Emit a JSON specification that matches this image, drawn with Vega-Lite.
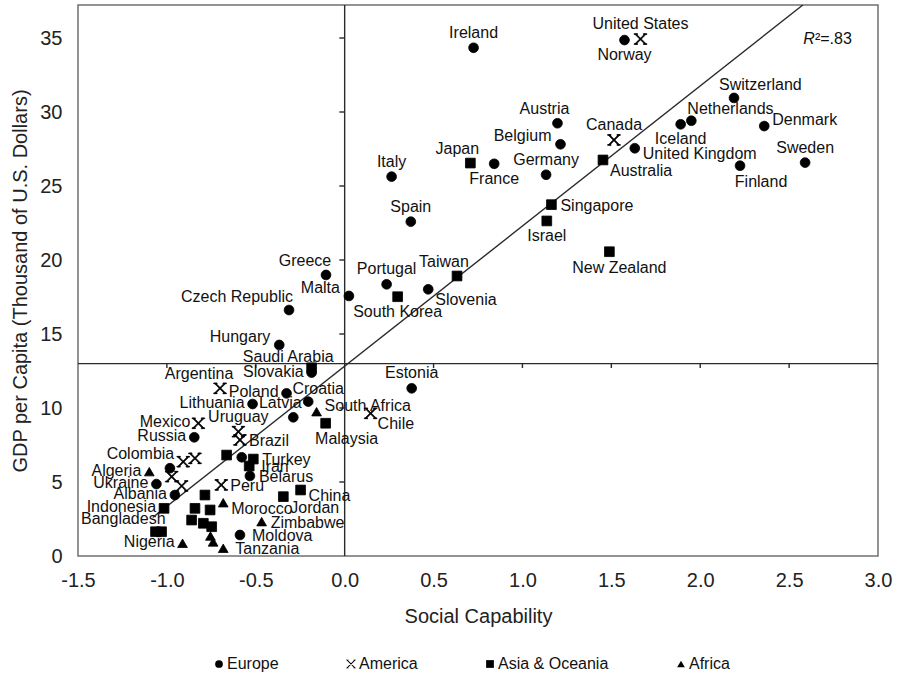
{
  "$schema": "https://vega.github.io/schema/vega-lite/v6.json",
  "width": 800,
  "height": 551,
  "autosize": {"type": "none"},
  "padding": {"left": 78, "top": 5, "right": 25, "bottom": 124},
  "background": "white",
  "config": {
    "view": {"stroke": "#707070", "strokeWidth": 1.5},
    "font": "Liberation Sans",
    "axis": {"grid": false, "ticks": false, "domain": false, "labelFont": "Liberation Sans", "titleFont": "Liberation Sans", "labelFontSize": 20, "titleFontSize": 20, "titleFontWeight": "normal", "labelColor": "#222", "titleColor": "#222"},
    "text": {"font": "Liberation Sans", "fontSize": 16, "color": "#111", "baseline": "middle"}
  },
  "datasets": {
    "pts": [
      {"name": "Ireland", "region": "Europe", "x": 0.725, "y": 34.34},
      {"name": "Norway", "region": "Europe", "x": 1.574, "y": 34.86},
      {"name": "Switzerland", "region": "Europe", "x": 2.19, "y": 30.95},
      {"name": "Netherlands", "region": "Europe", "x": 1.95, "y": 29.41},
      {"name": "Iceland", "region": "Europe", "x": 1.89, "y": 29.17},
      {"name": "Denmark", "region": "Europe", "x": 2.36, "y": 29.05},
      {"name": "Sweden", "region": "Europe", "x": 2.59, "y": 26.58},
      {"name": "Finland", "region": "Europe", "x": 2.224, "y": 26.37},
      {"name": "United Kingdom", "region": "Europe", "x": 1.632, "y": 27.55},
      {"name": "Austria", "region": "Europe", "x": 1.197, "y": 29.24},
      {"name": "Belgium", "region": "Europe", "x": 1.214, "y": 27.82},
      {"name": "Germany", "region": "Europe", "x": 1.133, "y": 25.76},
      {"name": "France", "region": "Europe", "x": 0.841, "y": 26.5},
      {"name": "Italy", "region": "Europe", "x": 0.264, "y": 25.63},
      {"name": "Spain", "region": "Europe", "x": 0.372, "y": 22.59},
      {"name": "Portugal", "region": "Europe", "x": 0.236, "y": 18.36},
      {"name": "Slovenia", "region": "Europe", "x": 0.47, "y": 18.02},
      {"name": "Greece", "region": "Europe", "x": -0.105, "y": 18.99},
      {"name": "Malta", "region": "Europe", "x": 0.024, "y": 17.57},
      {"name": "Czech Republic", "region": "Europe", "x": -0.313, "y": 16.62},
      {"name": "Hungary", "region": "Europe", "x": -0.368, "y": 14.26},
      {"name": "Slovakia", "region": "Europe", "x": -0.186, "y": 12.39},
      {"name": "Estonia", "region": "Europe", "x": 0.377, "y": 11.33},
      {"name": "Poland", "region": "Europe", "x": -0.327, "y": 10.99},
      {"name": "Croatia", "region": "Europe", "x": -0.205, "y": 10.43},
      {"name": "Lithuania", "region": "Europe", "x": -0.518, "y": 10.27},
      {"name": "Latvia", "region": "Europe", "x": -0.289, "y": 9.37},
      {"name": "Russia", "region": "Europe", "x": -0.846, "y": 8.02},
      {"name": "Ukraine", "region": "Europe", "x": -1.059, "y": 4.86},
      {"name": "Albania", "region": "Europe", "x": -0.955, "y": 4.12},
      {"name": "Belarus", "region": "Europe", "x": -0.533, "y": 5.41},
      {"name": "Moldova", "region": "Europe", "x": -0.589, "y": 1.42},
      {"name": "", "region": "Europe", "x": -0.983, "y": 5.93},
      {"name": "", "region": "Europe", "x": -0.579, "y": 6.67},
      {"name": "United States", "region": "America", "x": 1.664, "y": 34.93},
      {"name": "Canada", "region": "America", "x": 1.515, "y": 28.11},
      {"name": "Chile", "region": "America", "x": 0.146, "y": 9.64},
      {"name": "Argentina", "region": "America", "x": -0.701, "y": 11.33},
      {"name": "Mexico", "region": "America", "x": -0.823, "y": 8.97},
      {"name": "Uruguay", "region": "America", "x": -0.598, "y": 8.4},
      {"name": "Brazil", "region": "America", "x": -0.589, "y": 7.84},
      {"name": "Colombia", "region": "America", "x": -0.908, "y": 6.37},
      {"name": "", "region": "America", "x": -0.842, "y": 6.6},
      {"name": "", "region": "America", "x": -0.973, "y": 5.36},
      {"name": "", "region": "America", "x": -0.917, "y": 4.73},
      {"name": "Peru", "region": "America", "x": -0.694, "y": 4.8},
      {"name": "Japan", "region": "Asia & Oceania", "x": 0.707, "y": 26.55},
      {"name": "Australia", "region": "Asia & Oceania", "x": 1.453, "y": 26.76},
      {"name": "Singapore", "region": "Asia & Oceania", "x": 1.163, "y": 23.74},
      {"name": "Israel", "region": "Asia & Oceania", "x": 1.137, "y": 22.64},
      {"name": "New Zealand", "region": "Asia & Oceania", "x": 1.489, "y": 20.56},
      {"name": "Taiwan", "region": "Asia & Oceania", "x": 0.632, "y": 18.92},
      {"name": "South Korea", "region": "Asia & Oceania", "x": 0.298, "y": 17.52},
      {"name": "Saudi Arabia", "region": "Asia & Oceania", "x": -0.186, "y": 12.72},
      {"name": "Malaysia", "region": "Asia & Oceania", "x": -0.107, "y": 8.97},
      {"name": "Turkey", "region": "Asia & Oceania", "x": -0.514, "y": 6.55},
      {"name": "Iran", "region": "Asia & Oceania", "x": -0.537, "y": 6.08},
      {"name": "", "region": "Asia & Oceania", "x": -0.664, "y": 6.82},
      {"name": "China", "region": "Asia & Oceania", "x": -0.248, "y": 4.46},
      {"name": "Jordan", "region": "Asia & Oceania", "x": -0.345, "y": 4.01},
      {"name": "Indonesia", "region": "Asia & Oceania", "x": -1.016, "y": 3.22},
      {"name": "Bangladesh", "region": "Asia & Oceania", "x": -1.03, "y": 1.64},
      {"name": "", "region": "Asia & Oceania", "x": -1.064, "y": 1.64},
      {"name": "", "region": "Asia & Oceania", "x": -0.786, "y": 4.12},
      {"name": "", "region": "Asia & Oceania", "x": -0.842, "y": 3.22},
      {"name": "", "region": "Asia & Oceania", "x": -0.757, "y": 3.11},
      {"name": "", "region": "Asia & Oceania", "x": -0.861, "y": 2.43},
      {"name": "", "region": "Asia & Oceania", "x": -0.795, "y": 2.21},
      {"name": "", "region": "Asia & Oceania", "x": -0.748, "y": 1.98},
      {"name": "South Africa", "region": "Africa", "x": -0.158, "y": 9.75},
      {"name": "Algeria", "region": "Africa", "x": -1.099, "y": 5.7},
      {"name": "Morocco", "region": "Africa", "x": -0.683, "y": 3.6},
      {"name": "Zimbabwe", "region": "Africa", "x": -0.467, "y": 2.32},
      {"name": "Nigeria", "region": "Africa", "x": -0.912, "y": 0.86},
      {"name": "Tanzania", "region": "Africa", "x": -0.683, "y": 0.52},
      {"name": "", "region": "Africa", "x": -0.755, "y": 1.35},
      {"name": "", "region": "Africa", "x": -0.74, "y": 0.95}
    ],
    "lines": [
      {"id": "v", "x": 0, "y": 0},
      {"id": "v", "x": 0, "y": 37.23},
      {"id": "h", "x": -1.5, "y": 13},
      {"id": "h", "x": 3.0, "y": 13},
      {"id": "fit", "x": -1.08, "y": 2.6},
      {"id": "fit", "x": 2.577, "y": 37.23},
      {"id": "ty5", "x": -0.03, "y": 5}, {"id": "ty5", "x": 0, "y": 5},
      {"id": "ty10", "x": -0.03, "y": 10}, {"id": "ty10", "x": 0, "y": 10},
      {"id": "ty15", "x": -0.03, "y": 15}, {"id": "ty15", "x": 0, "y": 15},
      {"id": "ty20", "x": -0.03, "y": 20}, {"id": "ty20", "x": 0, "y": 20},
      {"id": "ty25", "x": -0.03, "y": 25}, {"id": "ty25", "x": 0, "y": 25},
      {"id": "ty30", "x": -0.03, "y": 30}, {"id": "ty30", "x": 0, "y": 30},
      {"id": "ty35", "x": -0.03, "y": 35}, {"id": "ty35", "x": 0, "y": 35},
      {"id": "tx1", "x": -1.0, "y": 13}, {"id": "tx1", "x": -1.0, "y": 12.7},
      {"id": "tx2", "x": -0.5, "y": 13}, {"id": "tx2", "x": -0.5, "y": 12.7},
      {"id": "tx3", "x": 0.5, "y": 13}, {"id": "tx3", "x": 0.5, "y": 12.7},
      {"id": "tx4", "x": 1.0, "y": 13}, {"id": "tx4", "x": 1.0, "y": 12.7},
      {"id": "tx5", "x": 1.5, "y": 13}, {"id": "tx5", "x": 1.5, "y": 12.7},
      {"id": "tx6", "x": 2.0, "y": 13}, {"id": "tx6", "x": 2.0, "y": 12.7},
      {"id": "tx7", "x": 2.5, "y": 13}, {"id": "tx7", "x": 2.5, "y": 12.7}
    ],
    "ann": [{"x": 2.645, "y": 34.93}]
  },
  "encoding": {
    "x": {"field": "x", "type": "quantitative", "scale": {"domain": [-1.5, 3.0], "nice": false, "zero": false},
      "axis": {"title": "Social Capability", "values": [-1.5, -1, -0.5, 0, 0.5, 1, 1.5, 2, 2.5, 3], "format": ".1f", "labelExpr": "replace(datum.label, '\u2212', '-')", "labelPadding": 14, "titlePadding": 16, "labelFlush": false}},
    "y": {"field": "y", "type": "quantitative", "scale": {"domain": [0, 37.23], "nice": false, "zero": false},
      "axis": {"title": "GDP per Capita (Thousand of U.S. Dollars)", "values": [0, 5, 10, 15, 20, 25, 30, 35], "format": "d", "labelPadding": 16, "titlePadding": 9, "labelFlush": false}}
  },
  "layer": [
    {
      "data": {"name": "lines"},
      "mark": {"type": "line", "color": "#2a2a2a", "strokeWidth": 1.4},
      "encoding": {"detail": {"field": "id"}}
    },
    {
      "data": {"name": "pts"},
      "mark": {"type": "point", "filled": true, "color": "black", "stroke": "black", "strokeWidth": 0.8, "size": 95, "opacity": 1},
      "encoding": {
        "shape": {"field": "region", "type": "nominal",
          "scale": {"domain": ["Europe", "America", "Asia & Oceania", "Africa"], "range": ["circle", "M-1.085,-0.915L0.915,1.085L1.085,0.915L-0.915,-1.085ZM-0.915,1.085L1.085,-0.915L0.915,-1.085L-1.085,0.915ZM-1.3,-1.1V-0.95H-0.6V-1.1ZM0.6,-1.1V-0.95H1.3V-1.1ZM-1.3,0.95V1.1H-0.6V0.95ZM0.6,0.95V1.1H1.3V0.95Z", "square", "triangle-up"]},
          "legend": {"orient": "none", "legendX": 133, "legendY": 651, "direction": "horizontal", "title": null, "labelFont": "Liberation Sans", "labelFontSize": 16, "labelColor": "#111", "symbolSize": 60, "columnPadding": 64, "labelOffset": 0, "symbolFillColor": "black", "symbolStrokeColor": "black", "symbolStrokeWidth": 0.8, "symbolOpacity": 1}}
      }
    },
    {"data": {"name": "pts"}, "transform": [{"filter": {"field": "name", "oneOf": ["Singapore", "Brazil", "Turkey", "Belarus", "Peru", "Zimbabwe"]}}],
      "mark": {"type": "text", "align": "left", "dx": 9, "dy": 1}, "encoding": {"text": {"field": "name"}}},
    {"data": {"name": "pts"}, "transform": [{"filter": {"field": "name", "oneOf": ["Iran", "Tanzania", "Moldova"]}}],
      "mark": {"type": "text", "align": "left", "dx": 12, "dy": 1}, "encoding": {"text": {"field": "name"}}},
    {"data": {"name": "pts"}, "transform": [{"filter": {"field": "name", "oneOf": ["Denmark", "South Africa"]}}],
      "mark": {"type": "text", "align": "left", "dx": 8, "dy": -6}, "encoding": {"text": {"field": "name"}}},
    {"data": {"name": "pts"}, "transform": [{"filter": {"field": "name", "oneOf": ["United Kingdom", "China", "Morocco"]}}],
      "mark": {"type": "text", "align": "left", "dx": 8, "dy": 6}, "encoding": {"text": {"field": "name"}}},
    {"data": {"name": "pts"}, "transform": [{"filter": {"field": "name", "oneOf": ["Slovakia", "Poland", "Lithuania", "Mexico", "Russia", "Algeria", "Ukraine", "Albania", "Indonesia", "Nigeria"]}}],
      "mark": {"type": "text", "align": "right", "dx": -8, "dy": -1}, "encoding": {"text": {"field": "name"}}},
    {"data": {"name": "pts"}, "transform": [{"filter": {"field": "name", "oneOf": ["Belgium", "Malta", "Hungary", "Colombia"]}}],
      "mark": {"type": "text", "align": "right", "dx": -9, "dy": -8}, "encoding": {"text": {"field": "name"}}},
    {"data": {"name": "pts"}, "transform": [{"filter": {"field": "name", "oneOf": ["Ireland", "United States", "Canada", "Germany", "Italy", "Spain", "Sweden", "Portugal", "Estonia", "Uruguay"]}}],
      "mark": {"type": "text", "align": "center", "dx": 0, "dy": -15}, "encoding": {"text": {"field": "name"}}},
    {"data": {"name": "pts"}, "transform": [{"filter": {"field": "name", "oneOf": ["Austria", "Japan", "Taiwan", "Latvia"]}}],
      "mark": {"type": "text", "align": "center", "dx": -13, "dy": -14}, "encoding": {"text": {"field": "name"}}},
    {"data": {"name": "pts"}, "transform": [{"filter": {"field": "name", "oneOf": ["Greece", "Argentina"]}}],
      "mark": {"type": "text", "align": "center", "dx": -21, "dy": -14}, "encoding": {"text": {"field": "name"}}},
    {"data": {"name": "pts"}, "transform": [{"filter": {"field": "name", "oneOf": ["Croatia"]}}],
      "mark": {"type": "text", "align": "center", "dx": 10, "dy": -13}, "encoding": {"text": {"field": "name"}}},
    {"data": {"name": "pts"}, "transform": [{"filter": {"field": "name", "oneOf": ["Norway", "Iceland", "France", "Israel", "South Korea"]}}],
      "mark": {"type": "text", "align": "center", "dx": 0, "dy": 15}, "encoding": {"text": {"field": "name"}}},
    {"data": {"name": "pts"}, "transform": [{"filter": {"field": "name", "oneOf": ["New Zealand"]}}],
      "mark": {"type": "text", "align": "center", "dx": 10, "dy": 16}, "encoding": {"text": {"field": "name"}}},
    {"data": {"name": "pts"}, "transform": [{"filter": {"field": "name", "oneOf": ["Finland", "Malaysia"]}}],
      "mark": {"type": "text", "align": "center", "dx": 21, "dy": 16}, "encoding": {"text": {"field": "name"}}},
    {"data": {"name": "pts"}, "transform": [{"filter": {"field": "name", "oneOf": ["Switzerland"]}}],
      "mark": {"type": "text", "align": "left", "dx": -15, "dy": -13}, "encoding": {"text": {"field": "name"}}},
    {"data": {"name": "pts"}, "transform": [{"filter": {"field": "name", "oneOf": ["Netherlands"]}}],
      "mark": {"type": "text", "align": "left", "dx": -4, "dy": -12}, "encoding": {"text": {"field": "name"}}},
    {"data": {"name": "pts"}, "transform": [{"filter": {"field": "name", "oneOf": ["Australia", "Jordan", "Slovenia", "Chile"]}}],
      "mark": {"type": "text", "align": "left", "dx": 7, "dy": 11}, "encoding": {"text": {"field": "name"}}},
    {"data": {"name": "pts"}, "transform": [{"filter": {"field": "name", "oneOf": ["Czech Republic", "Bangladesh"]}}],
      "mark": {"type": "text", "align": "right", "dx": 4, "dy": -13}, "encoding": {"text": {"field": "name"}}},
    {"data": {"name": "pts"}, "transform": [{"filter": {"field": "name", "oneOf": ["Saudi Arabia"]}}],
      "mark": {"type": "text", "align": "right", "dx": 22, "dy": -11}, "encoding": {"text": {"field": "name"}}},
    {"data": {"name": "ann"}, "mark": {"type": "text", "align": "right", "fontStyle": "italic", "fontSize": 16}, "encoding": {"text": {"value": "R"}}},
    {"data": {"name": "ann"}, "mark": {"type": "text", "align": "left", "fontSize": 16}, "encoding": {"text": {"value": "²=.83"}}}
  ]
}
